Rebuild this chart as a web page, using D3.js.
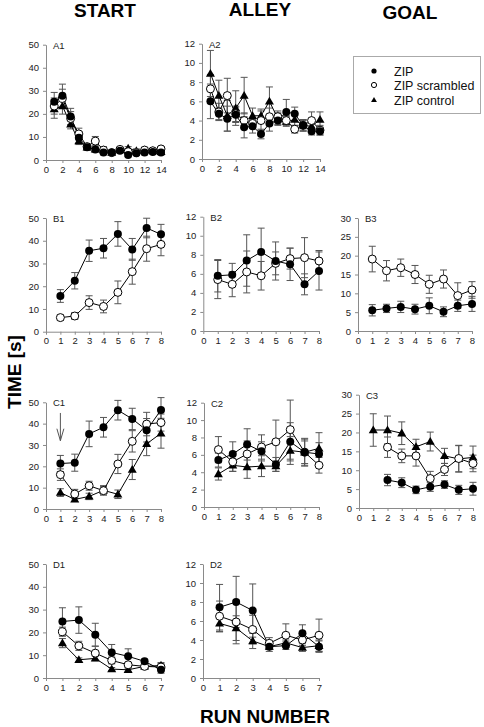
<!DOCTYPE html>
<html><head><meta charset="utf-8">
<script src="https://cdn.jsdelivr.net/npm/d3@7"></script>
<style>
body{margin:0;background:#fff;}
svg{display:block;font-family:"Liberation Sans",Arial,sans-serif;}
</style></head>
<body>
<svg id="chart" width="484" height="727"></svg>
<script>
// ---------- data ----------
const seriesNames = ["ZIP", "ZIP scrambled", "ZIP control"];
const columnTitles = ["START", "ALLEY", "GOAL"];
const runs14 = [1,2,3,4,5,6,7,8,9,10,11,12,13,14];
const runs8 = [1,2,3,4,5,6,7,8];
const runs7 = [1,2,3,4,5,6,7];
const ticks14 = [0,2,4,6,8,10,12,14];
const ticks8 = [0,1,2,3,4,5,6,7,8];
const ticks7 = [0,1,2,3,4,5,6,7];
const yTicks50 = [0,10,20,30,40,50];
const yTicks30 = [0,5,10,15,20,25,30];
const yTicks12 = [0,2,4,6,8,10,12];

// A1 START
const A1_zip = [25.3,27.9,18.9,9.7,5.5,4.6,3.2,3.2,4.0,2.2,2.9,3.2,3.5,3.2];
const A1_zipErr = [4,5,3.5,2.5,1.2,1,1,0.8,0.8,0.8,0.8,1,1,1];
const A1_scr = [23.4,26.7,18.0,11.3,5.8,8.2,4.3,3.2,4.6,3.6,3.2,4.3,4.0,4.8];
const A1_scrErr = [3.5,4,3,2.5,1.2,2,1.5,0.8,0.8,1,1,1.2,1,1];
const A1_ctl = [22.1,23.4,15.5,8.2,5.5,4.6,4.3,3.2,4.3,5.0,4.0,4.3,4.0,3.6];
const A1_ctlErr = [4,3.5,2,1.5,1.2,1,1,0.8,0.8,0.8,0.8,0.8,0.8,0.8];
// A2 ALLEY
const A2_zip = [6.0,4.7,4.2,4.6,3.3,3.4,2.6,3.7,4.0,4.9,4.7,3.5,2.9,2.9];
const A2_zipErr = [1.8,0.6,1.3,0.8,1.1,0.7,0.5,0.8,0.5,1.3,0.7,0.6,0.4,0.4];
const A2_scr = [7.3,4.9,6.6,4.7,4.0,3.7,4.0,4.4,4.4,4.0,3.1,3.5,4.0,3.0];
const A2_scrErr = [1.5,0.9,1.8,0.8,0.8,0.5,1.0,0.9,0.6,0.5,0.4,0.6,0.9,0.5];
const A2_ctl = [8.9,6.6,4.5,5.3,6.6,4.5,4.5,6.0,4.2,3.9,4.1,3.5,3.4,4.1];
const A2_ctlErr = [2.4,1.6,1.6,1.8,1.9,0.8,0.7,1.5,0.6,0.5,0.6,0.5,0.5,0.8];
// B1 START
const B1_zip = [15.7,22.4,35.6,36.7,43.0,36.2,45.6,42.8];
const B1_zipErr = [2.8,3.6,4.7,4.3,5.4,4.8,4.3,4.4];
const B1_scr = [6.2,6.9,12.8,11.1,17.3,26.4,36.5,38.4];
const B1_scrErr = [1.2,1.5,3,2.8,5,5.5,5.5,5];
// B2 ALLEY
const B2_zip = [5.8,5.9,7.4,8.3,7.35,7.0,4.9,6.3];
const B2_zipErr = [1.7,1.2,2.7,2.5,2.0,1.7,1.1,2.0];
const B2_scr = [5.4,4.9,6.2,5.8,7.1,7.6,7.7,7.35];
const B2_scrErr = [2.0,1.3,2.2,1.5,1.2,1.1,2.1,1.1];
// B3 GOAL
const B3_zip = [5.5,6.0,6.4,5.8,6.7,5.1,6.7,7.2];
const B3_zipErr = [1.5,1.1,1.5,1.3,2.1,1.3,1.5,2];
const B3_scr = [19.1,16.0,16.8,15.0,12.4,13.8,9.4,10.9];
const B3_scrErr = [3.4,2.7,2.3,2.4,2.4,2.4,3.4,2.2];
// C1 START
const C1_zip = [21.3,21.7,35.2,38.3,46.3,42.2,36.9,46.4];
const C1_zipErr = [3.8,4,6,4.6,4.6,5,5.5,5.8];
const C1_scr = [16.1,7.0,10.9,8.6,21.1,31.7,39.8,40.5];
const C1_scrErr = [2.7,2.2,2.1,2,4.5,5,5.5,4];
const C1_ctl = [7.7,4.5,5.9,8.75,6.9,18.5,30.5,35.5];
const C1_ctlErr = [1.8,1,1.5,2.2,2,4.7,5.5,7];
// C2 ALLEY
const C2_zip = [5.4,6.1,7.2,6.4,4.9,7.5,6.3,6.1];
const C2_zipErr = [0.8,1.4,1.8,1.1,0.8,2.2,1.5,1.3];
const C2_scr = [6.6,5.2,6.1,6.9,7.5,8.9,6.3,4.8];
const C2_scrErr = [1.5,1.1,1.5,1.4,2.5,3.4,1.6,0.9];
const C2_ctl = [3.8,4.8,4.6,4.7,4.7,6.5,6.3,6.75];
const C2_ctlErr = [0.7,0.7,1.3,1.2,0.6,1.6,1.3,1.8];
// C3 GOAL (ZIP and scrambled start at run 2)
const C3_zip = [null,7.4,6.7,4.8,5.6,6.2,4.8,5.1];
const C3_zipErr = [null,1.5,1.3,1,1.2,1.0,1.2,1.7];
const C3_scr = [null,16.1,13.8,13.8,7.8,10.2,13.1,11.8];
const C3_scrErr = [null,2.7,1.8,2.7,1.9,1.6,3.5,2.2];
const C3_ctl = [20.65,20.65,19.8,16.2,17.6,13.8,13.0,13.4];
const C3_ctlErr = [4.3,3.7,3,2,2.5,2,3.5,3];
// D1 START
const D1_zip = [24.8,25.4,19.0,11.2,9.5,7.3,3.6];
const D1_zipErr = [6,5.8,5,3.5,3.3,1,1.5];
const D1_scr = [20.3,14.1,10.9,7.7,5.8,5.1,4.8];
const D1_scrErr = [2,2,3,1.5,1,1,1.5];
const D1_ctl = [15.3,8.0,8.6,3.9,3.6,5.1,5.5];
const D1_ctlErr = [2,0.8,1,0.7,0.7,0.8,1.3];
// D2 ALLEY
const D2_zip = [7.45,8.0,7.1,3.3,3.4,4.7,3.3];
const D2_zipErr = [2.4,2.7,2.8,0.5,0.4,0.9,0.6];
const D2_scr = [6.5,5.9,5.1,3.65,4.5,4.0,4.5];
const D2_scrErr = [1.6,2.3,1.5,0.6,1.2,0.6,1.7];
const D2_ctl = [5.75,5.25,3.9,3.3,3.7,3.2,3.4];
const D2_ctlErr = [0.9,1.3,0.8,0.3,0.3,0.4,0.6];

// ---------- layout ----------
const svg = d3.select("#chart");
const panels = [
  {id:"A1", runs:runs14, xt:ticks14, xMax:14, yt:yTicks50, box:[46,161,44.7,160],
   s:[["ctl",A1_ctl,A1_ctlErr],["scr",A1_scr,A1_scrErr],["zip",A1_zip,A1_zipErr]]},
  {id:"A2", runs:runs14, xt:ticks14, xMax:14, yt:yTicks12, box:[202,320,43.7,159],
   s:[["ctl",A2_ctl,A2_ctlErr],["scr",A2_scr,A2_scrErr],["zip",A2_zip,A2_zipErr]]},
  {id:"B1", runs:runs8, xt:ticks8, xMax:8, yt:yTicks50, box:[46,161,218,331.7],
   s:[["scr",B1_scr,B1_scrErr],["zip",B1_zip,B1_zipErr]]},
  {id:"B2", runs:runs8, xt:ticks8, xMax:8, yt:yTicks12, box:[203.3,319,216.7,331],
   s:[["scr",B2_scr,B2_scrErr],["zip",B2_zip,B2_zipErr]]},
  {id:"B3", runs:runs8, xt:ticks8, xMax:8, yt:yTicks30, box:[358,472,218,331],
   s:[["scr",B3_scr,B3_scrErr],["zip",B3_zip,B3_zipErr]]},
  {id:"C1", runs:runs8, xt:ticks8, xMax:8, yt:yTicks50, box:[46,161,402.3,509], arrow:true,
   s:[["ctl",C1_ctl,C1_ctlErr],["scr",C1_scr,C1_scrErr],["zip",C1_zip,C1_zipErr]]},
  {id:"C2", runs:runs8, xt:ticks8, xMax:8, yt:yTicks12, box:[204,319,402.7,507],
   s:[["ctl",C2_ctl,C2_ctlErr],["scr",C2_scr,C2_scrErr],["zip",C2_zip,C2_zipErr]]},
  {id:"C3", runs:runs8, xt:ticks8, xMax:8, yt:yTicks30, box:[359,473,394.7,508],
   s:[["ctl",C3_ctl,C3_ctlErr],["scr",C3_scr,C3_scrErr],["zip",C3_zip,C3_zipErr]]},
  {id:"D1", runs:runs7, xt:ticks7, xMax:7, yt:yTicks50, box:[46,161,564,678],
   s:[["ctl",D1_ctl,D1_ctlErr],["scr",D1_scr,D1_scrErr],["zip",D1_zip,D1_zipErr]]},
  {id:"D2", runs:runs7, xt:ticks7, xMax:7, yt:yTicks12, box:[203,319,564,678],
   s:[["ctl",D2_ctl,D2_ctlErr],["scr",D2_scr,D2_scrErr],["zip",D2_zip,D2_zipErr]]}
];

const axisColor = "#8a8a8a";
const errColor = "#555";

function drawMarker(g, type, x, y, size) {
  if (type === "zip") {
    g.append("circle").attr("cx",x).attr("cy",y).attr("r",size).attr("fill","#000");
  } else if (type === "scr") {
    g.append("circle").attr("cx",x).attr("cy",y).attr("r",size).attr("fill","#fff")
      .attr("stroke","#000").attr("stroke-width",1);
  } else {
    g.append("path").attr("transform",`translate(${x},${y+size*0.15})`)
      .attr("d", d3.symbol(d3.symbolTriangle, size*size*2.2)()).attr("fill","#000");
  }
}

panels.forEach(p => {
  const [x0,x1,yT,yB] = p.box;
  const yMax = p.yt[p.yt.length-1];
  const x = d3.scaleLinear().domain([0,p.xMax]).range([x0,x1]);
  const y = d3.scaleLinear().domain([0,yMax]).range([yB,yT]);
  const g = svg.append("g");

  const ya = g.append("g").attr("transform",`translate(${x0},0)`)
    .call(d3.axisLeft(y).tickValues(p.yt).tickFormat(d3.format("d")).tickSize(3).tickSizeOuter(0).tickPadding(4));
  const xa = g.append("g").attr("transform",`translate(0,${yB})`)
    .call(d3.axisBottom(x).tickValues(p.xt).tickFormat(d3.format("d")).tickSize(3).tickSizeOuter(0).tickPadding(3));
  [ya,xa].forEach(a => {
    a.select(".domain").attr("stroke",axisColor);
    a.selectAll(".tick line").attr("stroke",axisColor);
    a.selectAll(".tick text").attr("font-family","Liberation Sans, Arial, sans-serif").attr("font-size","9.5px").attr("fill","#222");
  });

  g.append("text").attr("x",x0+7).attr("y",yT+4).attr("font-size","9.5px").attr("fill","#222").text(p.id);

  // error bars
  p.s.forEach(([type,vals,errs]) => {
    p.runs.forEach((r,i) => {
      if (vals[i] == null) return;
      const cx = x(r), top = y(vals[i]+errs[i]), bot = y(Math.max(0,vals[i]-errs[i]));
      g.append("line").attr("x1",cx).attr("x2",cx).attr("y1",top).attr("y2",bot).attr("stroke",errColor).attr("stroke-width",1);
      [top,bot].forEach(yy => g.append("line").attr("x1",cx-3.5).attr("x2",cx+3.5).attr("y1",yy).attr("y2",yy).attr("stroke",errColor).attr("stroke-width",1));
    });
  });
  // lines
  p.s.forEach(([type,vals]) => {
    const line = d3.line().defined((d,i)=>vals[i]!=null).x((d)=>x(d)).y((d,i)=>y(vals[i]));
    g.append("path").datum(p.runs).attr("d",line).attr("fill","none").attr("stroke","#000").attr("stroke-width",1);
  });
  // markers
  p.s.forEach(([type,vals]) => {
    p.runs.forEach((r,i) => { if (vals[i]!=null) drawMarker(g,type,x(r),y(vals[i]),4); });
  });

  if (p.arrow) {
    const ax = x(1), a1 = y(45), a2 = y(32);
    g.append("line").attr("x1",ax).attr("x2",ax).attr("y1",a1).attr("y2",a2).attr("stroke","#555").attr("stroke-width",1);
    g.append("path").attr("d",`M${ax-3.5},${a2-12} L${ax},${a2} L${ax+3.5},${a2-12}`).attr("fill","none").attr("stroke","#555").attr("stroke-width",1);
  }
});

// legend
const lg = svg.append("g");
lg.append("rect").attr("x",353.5).attr("y",56.5).attr("width",127).attr("height",57).attr("fill","#fff").attr("stroke","#aaa");
const legTypes = ["zip","scr","ctl"];
const legY = [71,85,100];
seriesNames.forEach((n,i) => {
  drawMarker(lg, legTypes[i], 374, legY[i], 2.6);
  lg.append("text").attr("x",394).attr("y",legY[i]+4.5).attr("font-size","12.5px").attr("fill","#111").text(n);
});

// titles
const titleX = [105,260,410], titleY = [16.7,16,19.3];
columnTitles.forEach((t,i) => {
  svg.append("text").attr("x",titleX[i]).attr("y",titleY[i]).attr("text-anchor","middle")
    .attr("font-weight","bold").attr("font-size","19px").attr("fill","#000").text(t);
});
svg.append("text").attr("transform","translate(21,372) rotate(-90)").attr("text-anchor","middle")
  .attr("font-weight","bold").attr("font-size","19px").attr("fill","#000").text("TIME [s]");
svg.append("text").attr("x",265).attr("y",723).attr("text-anchor","middle")
  .attr("font-weight","bold").attr("font-size","19px").attr("fill","#000").text("RUN NUMBER");
</script>
</body></html>
